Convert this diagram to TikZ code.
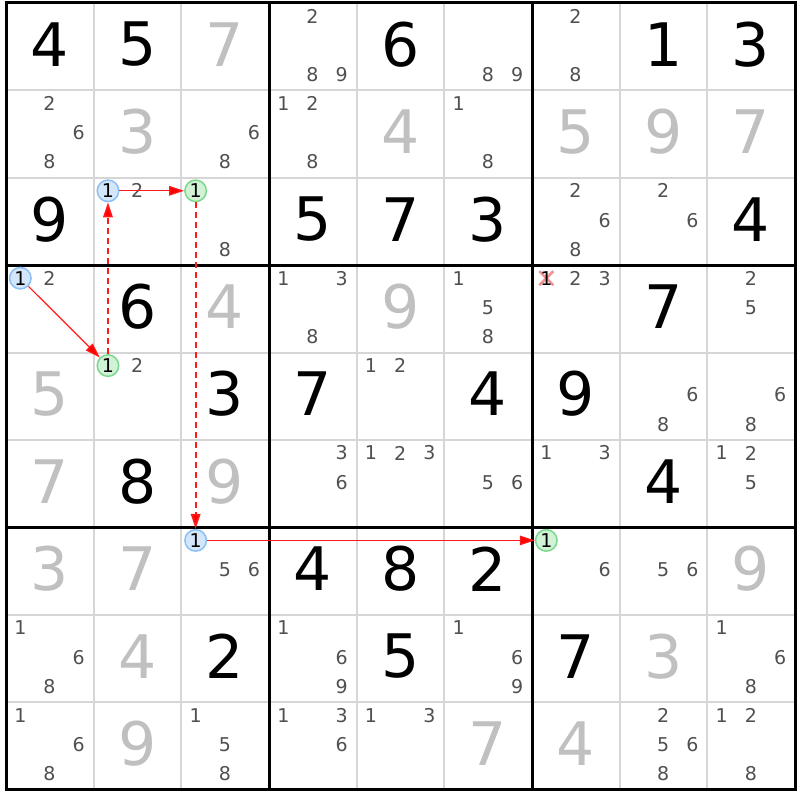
\documentclass[tikz,border=0pt]{standalone}
\usepackage{fontspec}
\setmainfont{DejaVu Sans}
\usetikzlibrary{arrows.meta}
\definecolor{solvedgray}{HTML}{C0C0C0}
\definecolor{candgray}{HTML}{505050}
\definecolor{thingrid}{HTML}{D6D6D6}
\definecolor{bluefill}{HTML}{D4E6FA}
\definecolor{blueline}{HTML}{8CC0F4}
\definecolor{greenfill}{HTML}{D2F2D6}
\definecolor{greenline}{HTML}{7CD88C}
\definecolor{linkred}{HTML}{FF1A1A}
\definecolor{crosspink}{HTML}{F29494}
\tikzset{
  thinline/.style={draw=thingrid, line width=2pt},
  thickline/.style={draw=black, line width=3pt},
  bigdigit/.style={inner sep=0pt, font=\fontsize{60}{60}\selectfont},
  givendigit/.style={bigdigit, text=black},
  solveddigit/.style={bigdigit, text=solvedgray},
  canddigit/.style={inner sep=0pt, text=candgray, font=\fontsize{19}{19}\selectfont},
  onbase/.style={circle, inner sep=0pt, minimum size=21.5pt, line width=1.5pt, text=black, font=\fontsize{19}{19}\selectfont},
  bluecand/.style={onbase, draw=blueline, fill=bluefill},
  greencand/.style={onbase, draw=greenline, fill=greenfill},
  strongarrow/.style={draw=linkred, line width=1.2pt, -{Triangle[length=15pt,width=9.5pt,fill=red]}},
  weakarrow/.style={draw=linkred, line width=1.8pt, dash pattern=on 6pt off 4pt, -{Triangle[length=15pt,width=9.5pt,fill=red]}},
  xmark/.style={draw=crosspink, line width=2.6pt}
}
\begin{document}
\begin{tikzpicture}[x=1pt,y=-1pt]
\useasboundingbox (0,0) rectangle (800,800);
\fill[white] (0,0) rectangle (800,800);
% thin grid lines
\foreach \k in {1,2,4,5,7,8} {
  \draw[thinline] ({6+87.67*\k},3) -- ({6+87.67*\k},789.6);
  \draw[thinline] (6,{3+87.4*\k}) -- (795,{3+87.4*\k});
}
% thick grid lines
\foreach \k in {0,3,6,9} {
  \draw[thickline] ({6+87.67*\k},1.5) -- ({6+87.67*\k},791.1);
  \draw[thickline] (4.5,{3+87.4*\k}) -- (796.5,{3+87.4*\k});
}
% given digits
\foreach \r/\c/\d in {1/1/4,1/2/5,1/5/6,1/8/1,1/9/3,
  3/1/9,3/4/5,3/5/7,3/6/3,3/9/4,
  4/2/6,4/8/7,
  5/3/3,5/4/7,5/6/4,5/7/9,
  6/2/8,6/8/4,
  7/4/4,7/5/8,7/6/2,
  8/3/2,8/5/5,8/7/7} {
  \node[givendigit] (g\r\c) at ({6+87.67*(\c-1)+43.5},{3+87.4*(\r-1)+41.5}) {\d};
}
% solved digits
\foreach \r/\c/\d in {1/3/7,
  2/2/3,2/5/4,2/7/5,2/8/9,2/9/7,
  4/3/4,4/5/9,
  5/1/5,
  6/1/7,6/3/9,
  7/1/3,7/2/7,7/9/9,
  8/2/4,8/8/3,
  9/2/9,9/6/7,9/7/4} {
  \node[solveddigit] (s\r\c) at ({6+87.67*(\c-1)+43.5},{3+87.4*(\r-1)+41.5}) {\d};
}
% candidates
\foreach \r/\c/\d in {1/4/2,1/4/8,1/4/9,1/6/8,1/6/9,1/7/2,1/7/8,
  2/1/2,2/1/6,2/1/8,2/3/6,2/3/8,2/4/1,2/4/2,2/4/8,2/6/1,2/6/8,
  3/2/2,3/3/8,3/7/2,3/7/6,3/7/8,3/8/2,3/8/6,
  4/1/2,4/4/1,4/4/3,4/4/8,4/6/1,4/6/5,4/6/8,4/7/2,4/7/3,4/9/2,4/9/5,
  5/2/2,5/5/1,5/5/2,5/8/6,5/8/8,5/9/6,5/9/8,
  6/4/3,6/4/6,6/5/1,6/5/2,6/5/3,6/6/5,6/6/6,6/7/1,6/7/3,6/9/1,6/9/2,6/9/5,
  7/3/5,7/3/6,7/7/6,7/8/5,7/8/6,
  8/1/1,8/1/6,8/1/8,8/4/1,8/4/6,8/4/9,8/6/1,8/6/6,8/6/9,8/9/1,8/9/6,8/9/8,
  9/1/1,9/1/6,9/1/8,9/3/1,9/3/5,9/3/8,9/4/1,9/4/3,9/4/6,9/5/1,9/5/3,
  9/8/2,9/8/5,9/8/6,9/8/8,9/9/1,9/9/2,9/9/8} {
  \pgfmathsetmacro\cx{6+87.67*(\c-1)+14.3+29.2*mod(\d-1,3)}
  \pgfmathsetmacro\cy{3+87.4*(\r-1)+13+29.3*floor((\d-1)/3)}
  \node[canddigit] (c\r\c\d) at (\cx,\cy) {\d};
}
% eliminated candidate r4c7 = 1
\coordinate (x471) at ({6+87.67*6+14.3},{3+87.4*3+13});
\draw[xmark] ([shift={(-7,-7)}]x471) -- ([shift={(7,7)}]x471);
\draw[xmark] ([shift={(-7,7)}]x471) -- ([shift={(7,-7)}]x471);
\node[inner sep=0pt, text=black, font=\fontsize{19}{19}\selectfont] (c471) at (x471) {1};
% chain candidates
\node[bluecand] (b41) at ({6+14.3},{3+87.4*3+13}) {1};
\node[greencand] (e52) at ({6+87.67+14.3},{3+87.4*4+13}) {1};
\node[bluecand] (b32) at ({6+87.67+14.3},{3+87.4*2+13}) {1};
\node[greencand] (e33) at ({6+87.67*2+14.3},{3+87.4*2+13}) {1};
\node[bluecand] (b73) at ({6+87.67*2+14.3},{3+87.4*6+13}) {1};
\node[greencand] (e77) at ({6+87.67*6+14.3},{3+87.4*6+13}) {1};
% links
\draw[strongarrow] (b41) -- (e52);
\draw[weakarrow] (e52) -- (b32);
\draw[strongarrow] (b32) -- (e33);
\draw[weakarrow] (e33) -- (b73);
\draw[strongarrow] (b73) -- (e77);
\end{tikzpicture}
\end{document}
